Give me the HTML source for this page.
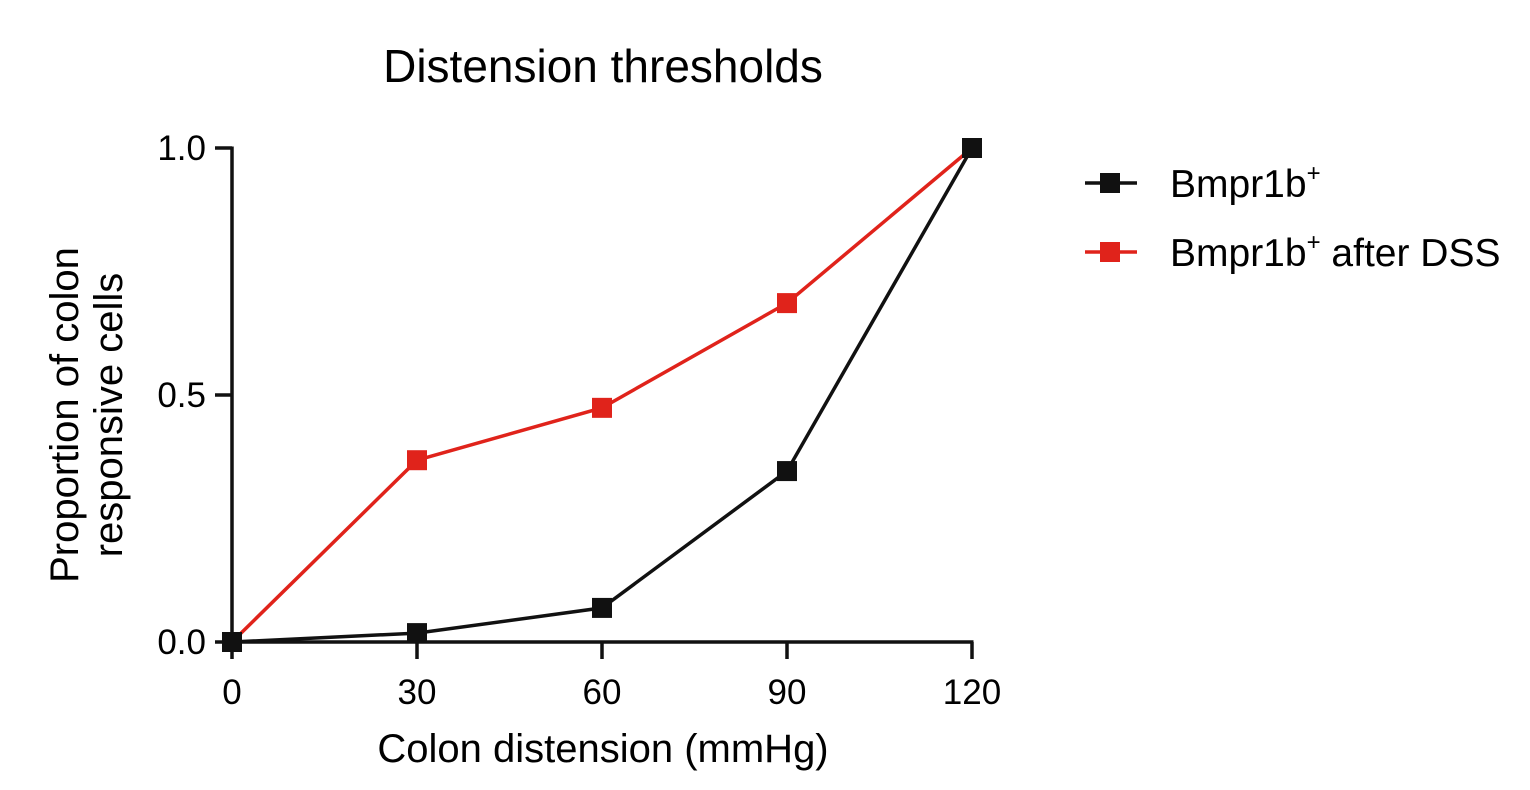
<!DOCTYPE html>
<html><head><meta charset="utf-8"><style>
html,body{margin:0;padding:0;background:#fff;}
svg{display:block;font-family:"Liberation Sans",Arial,sans-serif;}
</style></head><body>
<svg id="chart" width="1530" height="790" viewBox="0 0 1530 790">
<text x="603" y="82" font-size="46" text-anchor="middle">Distension thresholds</text>
<g id="axes"></g>
<g id="series"></g>
<text x="603" y="762" font-size="40" text-anchor="middle">Colon distension (mmHg)</text>
<g transform="translate(78,415) rotate(-90)">
<text x="0" y="0" font-size="40" text-anchor="middle">Proportion of colon</text>
<text x="0" y="44" font-size="40" text-anchor="middle">responsive cells</text>
</g>
<g>
<g>
<line x1="1085" y1="183" x2="1137" y2="183" stroke="#111" stroke-width="3.5"/>
<rect x="1100" y="173" width="20" height="20" fill="#111"/>
<text x="1170" y="197" font-size="39">Bmpr1b<tspan font-size="24" dy="-16">+</tspan></text>
</g>
<g>
<line x1="1085" y1="252" x2="1137" y2="252" stroke="#e0231b" stroke-width="3.5"/>
<rect x="1100" y="242" width="20" height="20" fill="#e0231b"/>
<text x="1170" y="266" font-size="39">Bmpr1b<tspan font-size="24" dy="-16">+</tspan><tspan dy="16"> after DSS</tspan></text>
</g>
</g>
</svg>
<script>
const categories = [0, 30, 60, 90, 120];
const bmprValues = [0, 0.018, 0.069, 0.346, 1.0];
const dssValues = [0, 0.368, 0.474, 0.686, 1.0];
const yTicks = [0, 0.5, 1.0];
const yTickLabels = ["0.0", "0.5", "1.0"];

const NS = "http://www.w3.org/2000/svg";
const xS = v => 232 + (v - 0) / 120 * 740;
const yS = v => 642 - v * 494;
function mk(tag, attrs, parent){const e=document.createElementNS(NS,tag);for(const k in attrs)e.setAttribute(k,attrs[k]);parent.appendChild(e);return e;}
const axes=document.getElementById('axes');
let l=mk('line',{x1:232,y1:yS(1)-1.5,x2:232,y2:642,stroke:'#111','stroke-width':3.5},axes);


l=mk('line',{x1:230.5,y1:642,x2:973.5,y2:642,stroke:'#111','stroke-width':3.5},axes);


yTicks.forEach((t,i)=>{
  const tk=mk('line',{x1:215,y1:yS(t),x2:232,y2:yS(t),stroke:'#111','stroke-width':3.5},axes);
  
  
  const tx=mk('text',{x:206,y:yS(t)+12,'font-size':35,'text-anchor':'end'},axes);
  tx.textContent=yTickLabels[i];
  
  
});
categories.forEach(c=>{
  const tk=mk('line',{x1:xS(c),y1:642,x2:xS(c),y2:659,stroke:'#111','stroke-width':3.5},axes);
  
  
  const tx=mk('text',{x:xS(c),y:704,'font-size':35,'text-anchor':'middle'},axes);
  tx.textContent=String(c);
  
  
});
const ser=document.getElementById('series');
function draw(vals,color,name){
  const pts=categories.map((c,i)=>xS(c)+','+yS(vals[i])).join(' ');
  const pl=mk('polyline',{points:pts,fill:'none',stroke:color,'stroke-width':3.5},ser);
  
  
  categories.forEach((c,i)=>{
    const r=mk('rect',{x:xS(c)-10,y:yS(vals[i])-10,width:20,height:20,fill:color},ser);
    
    
  });
}
draw(dssValues,'#e0231b','bmpr1b-dss');
draw(bmprValues,'#111','bmpr1b');
</script>
</body></html>
